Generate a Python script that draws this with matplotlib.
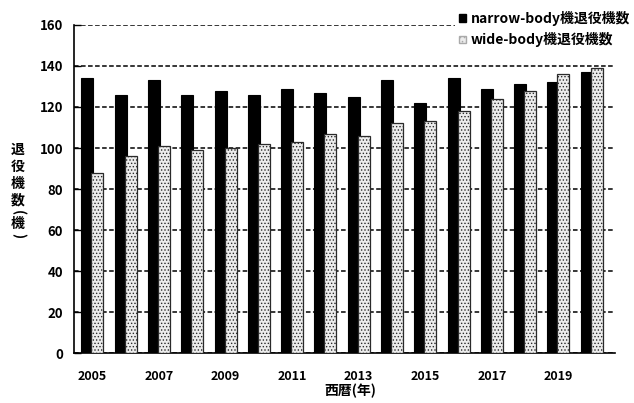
import matplotlib
matplotlib.use("Agg")
import matplotlib.pyplot as plt
import numpy as np
from matplotlib.patches import Patch

plt.rcParams['font.family'] = ['Noto Sans CJK JP', 'DejaVu Sans']
plt.rcParams['hatch.color'] = '#9a9a9a'
plt.rcParams['hatch.linewidth'] = 0.6

# Retirements per year (aircraft)
years = [2005, 2006, 2007, 2008, 2009, 2010, 2011, 2012,
         2013, 2014, 2015, 2016, 2017, 2018, 2019, 2020]
narrow_body = [134, 126, 133, 126, 128, 126, 129, 127,
               125, 133, 122, 134, 129, 131, 132, 137]
wide_body = [88, 96, 101, 99, 100, 102, 103, 107,
             106, 112, 113, 118, 124, 128, 136, 139]
tick_years = [2005, 2007, 2009, 2011, 2013, 2015, 2017, 2019]
y_ticks = [0, 20, 40, 60, 80, 100, 120, 140, 160]

label_narrow = 'narrow-body機退役機数'
label_wide = 'wide-body機退役機数'
y_title = '退役機数(機)'
x_title = '西暦(年)'

fig = plt.figure(figsize=(6.34, 4.03), dpi=100)
ax = fig.add_axes([0.117, 0.124, 0.853, 0.814])

x = np.arange(len(years))
w = 0.36
ax.bar(x - 0.15, narrow_body, width=w, color='black', edgecolor='black',
       linewidth=0.8, zorder=3)
ax.bar(x + 0.15, wide_body, width=w, color='#ececec', edgecolor='#2a2a2a',
       linewidth=0.9, hatch='.....', zorder=4)

ax.set_xlim(-0.55, len(years) - 0.3)
ax.set_ylim(0, 160)
ax.set_yticks(y_ticks)
ax.set_yticklabels([str(v) for v in y_ticks], fontsize=9.5, fontweight='bold')
ax.set_xticks([years.index(y) for y in tick_years])
ax.set_xticklabels([str(y) for y in tick_years], fontsize=9, fontweight='bold')
ax.tick_params(axis='x', length=0, pad=12)
ax.tick_params(axis='y', length=5, width=1, direction='in', pad=8)

ax.yaxis.grid(True, color='black', linestyle=(0, (3, 1.6)), linewidth=1.1, zorder=0)
ax.set_axisbelow(True)
for side in ('top', 'right'):
    ax.spines[side].set_visible(False)
ax.spines['left'].set_linewidth(1.2)
ax.spines['bottom'].set_linewidth(1.2)

handles = [Patch(facecolor='black', edgecolor='black'),
           Patch(facecolor='#ececec', edgecolor='#aaaaaa', hatch='....')]
leg = fig.legend(handles, [label_narrow, label_wide],
                 loc='upper left', bbox_to_anchor=(0.707, 1.0),
                 frameon=True, fancybox=False, edgecolor='none', facecolor='white',
                 framealpha=1.0, handlelength=0.5, handleheight=0.5,
                 handletextpad=0.3, labelspacing=0.45, borderpad=0.3,
                 prop={'size': 10, 'weight': 'bold'})

fig.text(350 / 634, 1 - 391 / 403, x_title, ha='center', va='center',
         fontsize=10, fontweight='bold')

# Vertical axis title: one character per line, brackets turned sideways
y_pos = 150
for ch in y_title:
    is_bracket = ch in '()'
    if is_bracket:
        y_pos -= 5
    fig.text(18 / 634, 1 - y_pos / 403, ch, ha='center', va='center',
             fontsize=10, fontweight='bold', rotation=-90 if is_bracket else 0)
    y_pos += 11 if is_bracket else 17

fig.savefig('out.png', dpi=100)
